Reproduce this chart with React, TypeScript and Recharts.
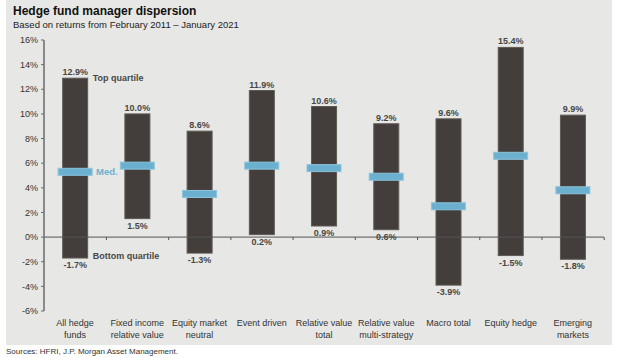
import React from 'react';
import { ComposedChart, Bar, Scatter, XAxis, YAxis, ReferenceLine } from 'recharts';

const categories = [
  'All hedge\nfunds',
  'Fixed income\nrelative value',
  'Equity market\nneutral',
  'Event driven',
  'Relative value\ntotal',
  'Relative value\nmulti-strategy',
  'Macro total',
  'Equity hedge',
  'Emerging\nmarkets',
];
const topQuartile = [12.9, 10.0, 8.6, 11.9, 10.6, 9.2, 9.6, 15.4, 9.9];
const bottomQuartile = [-1.7, 1.5, -1.3, 0.2, 0.9, 0.6, -3.9, -1.5, -1.8];
const medians = [5.3, 5.8, 3.5, 5.8, 5.6, 4.9, 2.5, 6.6, 3.8];
const yTicks = [-6, -4, -2, 0, 2, 4, 6, 8, 10, 12, 14, 16];

const data = categories.map((name, i) => ({
  name,
  range: [bottomQuartile[i], topQuartile[i]],
  median: medians[i],
}));

const FONT = '"Liberation Sans", Arial, Helvetica, sans-serif';
const LABEL_COLOR = '#474747';

const fmt = (v: number) => `${v.toFixed(1)}%`;

const RangeShape = (props: any) => {
  const { x, y, width, height, index } = props;
  const top = Math.min(y, y + height);
  const h = Math.abs(height);
  const bottom = top + h;
  const hi = topQuartile[index];
  const lo = bottomQuartile[index];
  const zeroY = top + (hi / (hi - lo)) * h;
  const cx = x + width / 2;
  const band = width / 0.4;
  return (
    <g>
      <rect x={x} y={top} width={width} height={h} fill="#433e3b" stroke="#5f5a56" strokeWidth={1} />
      <line x1={cx + band / 2} x2={cx + band / 2} y1={zeroY} y2={zeroY + 3} stroke="#555" strokeWidth={1} />
      <text x={cx} y={top - 3} textAnchor="middle" fontSize={9} fontWeight="bold" fill={LABEL_COLOR} fontFamily={FONT}>
        {fmt(hi)}
      </text>
      <text x={cx} y={bottom + 10} textAnchor="middle" fontSize={9} fontWeight="bold" fill={LABEL_COLOR} fontFamily={FONT}>
        {fmt(lo)}
      </text>
      {index === 0 && (
        <>
          <text x={x + width + 5} y={top + 3} fontSize={9} fontWeight="bold" fill={LABEL_COLOR} fontFamily={FONT}>
            Top quartile
          </text>
          <text x={x + width + 5} y={bottom + 1} fontSize={9} fontWeight="bold" fill={LABEL_COLOR} fontFamily={FONT}>
            Bottom quartile
          </text>
        </>
      )}
    </g>
  );
};

const MedianShape = (props: any) => {
  const { cx, cy, index } = props;
  const w = 34;
  const h = 7;
  return (
    <g>
      <rect x={cx - w / 2} y={cy - h / 2} width={w} height={h} fill="#6cb0cf" stroke="#8cc3dc" strokeWidth={1} />
      {index === 0 && (
        <text x={cx + w / 2 + 4} y={cy + 3.5} fontSize={9.5} fontWeight="bold" fill="#6cb0cf" fontFamily={FONT}>
          Med.
        </text>
      )}
    </g>
  );
};

const CategoryTick = (props: any) => {
  const { x, y, payload } = props;
  const lines = String(payload.value).split('\n');
  return (
    <text x={x} y={y} textAnchor="middle" fontSize={9} fill="#333" fontFamily={FONT}>
      {lines.map((l, i) => (
        <tspan key={i} x={x} dy={i === 0 ? 15 : 12}>
          {l}
        </tspan>
      ))}
    </text>
  );
};

export default function App() {
  return (
    <div style={{ position: 'absolute', left: 0, top: 0, width: 624, height: 358, background: '#fff', fontFamily: FONT }}>
      <div style={{ position: 'absolute', left: 6, top: 0, width: 606, height: 345, background: '#e7e7e5' }} />
      <div style={{ position: 'absolute', left: 13, top: 4, fontSize: 12, fontWeight: 'bold', color: '#111', whiteSpace: 'nowrap', lineHeight: '14px' }}>
        Hedge fund manager dispersion
      </div>
      <div style={{ position: 'absolute', left: 13, top: 19, fontSize: 9.5, color: '#222', whiteSpace: 'nowrap', lineHeight: '12px' }}>
        Based on returns from February 2011 – January 2021
      </div>
      <div style={{ position: 'absolute', left: 6, top: 347, fontSize: 8, color: '#333', whiteSpace: 'nowrap', lineHeight: '10px' }}>
        Sources: HFRI, J.P. Morgan Asset Management.
      </div>
      <div style={{ position: 'absolute', left: 0, top: 0 }}>
        <ComposedChart
          width={624}
          height={345}
          data={data}
          margin={{ top: 40, right: 20, bottom: 2, left: 0 }}
          barCategoryGap="30%"
        >
          <XAxis
            dataKey="name"
            type="category"
            axisLine={false}
            tickLine={false}
            tickSize={0}
            tickMargin={0}
            height={32}
            interval={0}
            tick={<CategoryTick />}
          />
          <YAxis
            type="number"
            domain={[-6, 16]}
            ticks={yTicks}
            width={44}
            tickSize={3}
            tickMargin={3}
            axisLine={{ stroke: '#6b6b6b', strokeWidth: 1.5 }}
            tickLine={{ stroke: '#6b6b6b' }}
            tickFormatter={(v: number) => `${v}%`}
            tick={{ fontSize: 9, fill: '#333', fontFamily: FONT }}
          />
          <Bar dataKey="range" isAnimationActive={false} shape={<RangeShape />} />
          <ReferenceLine y={0} stroke="#555" strokeWidth={1} />
          <Scatter dataKey="median" isAnimationActive={false} shape={<MedianShape />} />
        </ComposedChart>
      </div>
    </div>
  );
}
